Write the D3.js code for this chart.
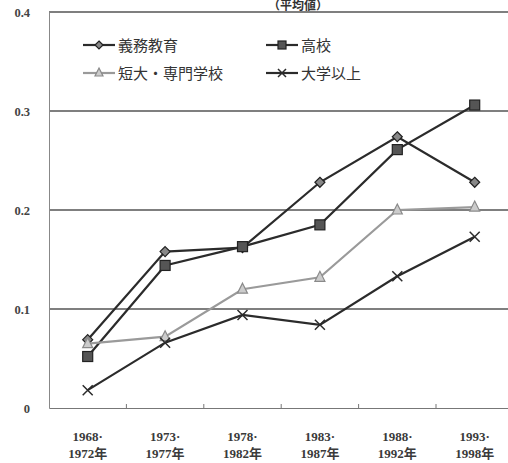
<!DOCTYPE html>
<html>
<head>
<meta charset="utf-8">
<script src="https://cdn.jsdelivr.net/npm/d3@7"></script>
<style>
  body { margin: 0; background: #fff; }
  text { font-family: "Liberation Serif", "Noto Sans CJK JP", serif; fill: #333; }
</style>
</head>
<body>
<svg id="chart" width="508" height="463"></svg>
<script>
// categories (two-line labels)
var periods = ["1968-1972", "1973-1977", "1978-1982", "1983-1987", "1988-1992", "1993-1998"]
var periodTop = ["1968·", "1973·", "1978·", "1983·", "1988·", "1993·"]
var periodBottom = ["1972年", "1977年", "1982年", "1987年", "1992年", "1998年"]
var yTicks = [0, 0.1, 0.2, 0.3, 0.4]

var compulsory = [0.069, 0.158, 0.162, 0.228, 0.274, 0.228]   // 義務教育
var highSchool = [0.052, 0.144, 0.163, 0.185, 0.261, 0.306]   // 高校
var juniorCollege = [0.065, 0.072, 0.120, 0.132, 0.200, 0.203] // 短大・専門学校
var university = [0.018, 0.066, 0.094, 0.084, 0.133, 0.173]   // 大学以上

var series = [
  { name: "義務教育", values: compulsory, color: "#2b2b2b", marker: "diamond" },
  { name: "高校", values: highSchool, color: "#2b2b2b", marker: "square" },
  { name: "短大・専門学校", values: juniorCollege, color: "#9a9a9a", marker: "triangle" },
  { name: "大学以上", values: university, color: "#2b2b2b", marker: "cross" }
]

var svg = d3.select("#chart")

var x = d3.scaleBand().domain(periods).range([49, 513.4])
var y = d3.scaleLinear().domain([0, 0.4]).range([408, 12])

/* title (cut at the top in the scan, kept readable here) */
svg.append("text")
  .attr("x", 298).attr("y", 10)
  .attr("text-anchor", "middle")
  .style("font-size", "12px").style("font-weight", "bold")
  .text("（平均値）")

/* grid lines */
svg.append("g").selectAll("line")
  .data(yTicks.filter(function(d) { return d > 0 }))
  .enter().append("line")
  .attr("x1", 49).attr("x2", 508)
  .attr("y1", function(d) { return y(d) }).attr("y2", function(d) { return y(d) })
  .style("stroke", "#555").style("stroke-width", 1.3)

/* y axis */
var yAxis = svg.append("g").attr("transform", "translate(49,0)")
  .call(d3.axisLeft(y).tickValues(yTicks).tickSize(0).tickPadding(19)
    .tickFormat(function(d) { return d === 0 ? "0" : d3.format(".1f")(d) }))
yAxis.select(".domain").style("stroke", "#888")
yAxis.selectAll("text").style("font-size", "12.5px").style("font-weight", "bold")
  .style("font-family", "Liberation Serif, serif").style("fill", "#444")

/* x axis */
var xAxis = svg.append("g").attr("transform", "translate(0,408)")
  .call(d3.axisBottom(x).tickSize(0).tickFormat(""))
xAxis.select(".domain").style("stroke", "#777")
svg.append("g").selectAll("line")
  .data(periods.slice(1))
  .enter().append("line")
  .attr("x1", function(d) { return x(d) }).attr("x2", function(d) { return x(d) })
  .attr("y1", 404).attr("y2", 408)
  .style("stroke", "#777")

var labels = svg.append("g").selectAll("text")
  .data(periods)
  .enter().append("text")
  .attr("text-anchor", "middle")
  .style("font-size", "13px").style("font-weight", "bold").style("fill", "#3a3a3a")
labels.append("tspan")
  .attr("x", function(d) { return x(d) + x.bandwidth() / 2 })
  .attr("y", 441)
  .text(function(d, i) { return periodTop[i] })
labels.append("tspan")
  .attr("x", function(d) { return x(d) + x.bandwidth() / 2 })
  .attr("y", 458)
  .text(function(d, i) { return periodBottom[i] })

function drawMarker(g, type, color, s) {
  if (type === "diamond") {
    g.append("path").attr("d", "M0,-" + s + "L" + s + ",0L0," + s + "L-" + s + ",0Z")
      .style("fill", "#888").style("stroke", "#222").style("stroke-width", 1.2)
  } else if (type === "square") {
    g.append("rect").attr("x", -s).attr("y", -s).attr("width", 2 * s).attr("height", 2 * s)
      .style("fill", "#555").style("stroke", "#222").style("stroke-width", 1.2)
  } else if (type === "triangle") {
    g.append("path").attr("d", "M0,-" + (s + 1) + "L" + s + "," + (s - 1) + "L-" + s + "," + (s - 1) + "Z")
      .style("fill", "#ccc").style("stroke", "#8a8a8a").style("stroke-width", 1.2)
  } else {
    g.append("path").attr("d", "M-" + s + ",-" + s + "L" + s + "," + s + "M" + s + ",-" + s + "L-" + s + "," + s)
      .style("fill", "none").style("stroke", color).style("stroke-width", 1.5)
  }
}

var line = d3.line()
  .x(function(d, i) { return x(periods[i]) + x.bandwidth() / 2 })
  .y(function(d) { return y(d) })

series.forEach(function(s) {
  svg.append("path").datum(s.values)
    .attr("d", line)
    .style("fill", "none").style("stroke", s.color).style("stroke-width", 2.2)
  s.values.forEach(function(v, i) {
    var g = svg.append("g")
      .attr("transform", "translate(" + (x(periods[i]) + x.bandwidth() / 2) + "," + y(v) + ")")
    drawMarker(g, s.marker, s.color, 5)
  })
})

/* legend */
var legendPos = [[83, 45], [266, 45], [83, 73], [266, 73]]
series.forEach(function(s, i) {
  var lg = svg.append("g").attr("transform", "translate(" + legendPos[i][0] + "," + legendPos[i][1] + ")")
  lg.append("line").attr("x1", 0).attr("x2", 32).attr("y1", 0).attr("y2", 0)
    .style("stroke", s.color).style("stroke-width", 2.2)
  drawMarker(lg.append("g").attr("transform", "translate(16,0)"), s.marker, s.color, 4)
  lg.append("text").attr("x", 35).attr("y", 6)
    .style("font-size", "15px").style("fill", "#333")
    .text(s.name)
})
</script>
</body>
</html>
